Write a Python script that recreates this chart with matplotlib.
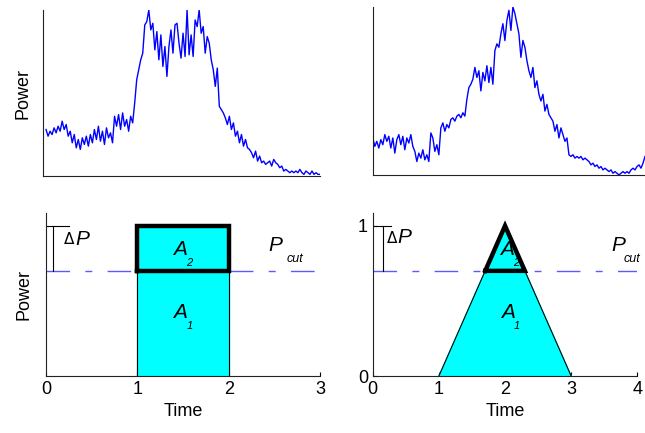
import numpy as np
import matplotlib.pyplot as plt

plt.rcParams['font.family'] = ['Liberation Sans', 'DejaVu Sans']

power_left = [28, 24, 27, 25, 29, 26, 30, 27, 33, 28, 31, 24, 27,
              20, 25, 17, 22, 16, 23, 19, 24, 18,
              25, 20, 28, 22, 30, 21, 27, 19, 29, 23, 26, 20,
              36, 30, 37, 28, 38, 30, 34, 27, 36, 32,
              44, 58, 64, 70, 74,
              91, 93, 100, 88,
              92, 76, 87, 70, 85, 66, 78, 60,
              78, 88, 74, 91, 92,
              80, 71, 86, 72, 100,
              73, 85, 72, 94, 90,
              100, 86, 90, 74, 84,
              80, 70, 64, 54, 65,
              42, 40, 38, 35, 31, 36,
              28, 32, 24, 27, 20, 25, 18, 22, 17, 16,
              14, 11, 15, 9, 12, 8, 9, 7, 8, 9, 6, 10, 8,
              7, 5, 6, 3, 4, 3, 2, 3, 2, 3, 2, 4, 2, 1, 3, 2, 1, 3, 1, 2, 1, 1]

power_right = [22, 17, 20, 16, 21, 18, 24, 20, 23,
               16, 22, 13, 21, 24, 18, 23, 15, 22, 19, 24, 17, 14,
               8, 13, 10, 15, 9, 12, 8,
               25, 22, 14, 18, 12,
               28, 31, 26, 30, 28, 33,
               34, 32, 35, 36, 34, 37, 35,
               45, 52, 54, 57,
               64, 58, 62, 50, 61, 56, 65, 55, 64, 54,
               74, 78, 76,
               84, 90, 80, 92, 98, 86, 100, 96,
               90, 84, 70, 80, 76,
               68, 62, 58, 64, 52, 56, 48,
               44, 48, 38, 42, 36, 34, 32,
               26, 30, 22, 28, 24, 20, 22,
               12, 11, 12, 10, 11, 10, 11, 9, 10,
               9, 8, 6, 7, 5, 6, 4, 5, 3, 4,
               3, 2, 3, 1, 2, 1, 0, 1, 2, 1, 2, 1,
               3, 4, 3, 5, 6, 4, 7, 11]

# idealised profiles
rect_t = [1, 1, 2, 2]
rect_p = [0, 1, 1, 0]
tri_t = [1, 2, 3]
tri_p = [0, 1, 0]
p_peak = 1.0
p_cut = 0.7

fig = plt.figure(figsize=(6.45, 4.33), dpi=100)
ax1 = fig.add_axes([0.0667, 0.5935, 0.4295, 0.3834])
ax2 = fig.add_axes([0.578, 0.596, 0.422, 0.388])
ax3 = fig.add_axes([0.0713, 0.1316, 0.4248, 0.3764])
ax4 = fig.add_axes([0.578, 0.1316, 0.410, 0.3764])

for ax in (ax1, ax2, ax3, ax4):
    ax.spines['top'].set_visible(False)
    ax.spines['right'].set_visible(False)
    for s in ('left', 'bottom'):
        ax.spines[s].set_linewidth(0.8)
        ax.spines[s].set_color('#222222')

# top: measured traces
ax1.plot(np.arange(len(power_left)), power_left, color='#0000ff', lw=1)
ax1.set_xlim(-1.5, len(power_left) - 1)
ax1.set_ylim(0, 100)
ax2.plot(np.arange(len(power_right)), power_right, color='#0000ff', lw=1)
ax2.set_xlim(0, len(power_right) - 1)
ax2.set_ylim(0, 100)
for ax in (ax1, ax2):
    ax.set_xticks([])
    ax.set_yticks([])
ax1.set_ylabel('Power', fontsize=13, labelpad=8)

dash = (0, (17, 11, 5, 11))
cut_color = '#5a5aff'


def draw_cut(ax, t, p, xmax, sel_x, bx, hx):
    t = np.array(t, dtype=float)
    p = np.array(p, dtype=float)
    ax.fill(t, p, color='#00ffff', zorder=2)
    ax.plot(t, p, color='black', lw=0.8, zorder=3)
    ax.plot([0, xmax], [p_cut, p_cut], color=cut_color, lw=1, linestyle=dash, zorder=1)
    # region above the cut level
    ax.plot(sel_x[0], sel_x[1], color='black', lw=3.2, solid_joinstyle='miter', zorder=4)
    # delta P bracket
    ax.plot([0, hx], [p_peak, p_peak], color='black', lw=0.8)
    ax.plot([bx, bx], [p_cut, p_peak], color='black', lw=0.8)
    ax.set_ylim(0, 1.085)
    ax.set_xlim(0, xmax)
    ax.tick_params(direction='in', length=3, labelsize=13, width=0.8)
    ax.set_xlabel('Time', fontsize=13, labelpad=4)


def area_label(ax, x, y, idx):
    ax.text(x, y, 'A', fontsize=15, style='italic', ha='center', va='center', zorder=5)
    ax.text(x + 0.1 * ax.get_xlim()[1] / 3, y - 0.09, idx, fontsize=8, style='italic',
            ha='center', va='center', zorder=5)


# bottom left: rectangular profile
draw_cut(ax3, rect_t, rect_p, 3,
         ([1, 1, 2, 2, 1], [p_cut, p_peak, p_peak, p_cut, p_cut]), 0.08, 0.25)
ax3.set_xticks([0, 1, 2, 3])
ax3.set_yticks([])
ax3.set_ylabel('Power', fontsize=13, labelpad=10)
area_label(ax3, 1.47, 0.84, '2')
area_label(ax3, 1.47, 0.42, '1')
ax3.text(2.51, 0.87, 'P', fontsize=15, style='italic', ha='center', va='center')
ax3.text(2.73, 0.78, 'cut', fontsize=9, style='italic', ha='center', va='center')
ax3.text(0.19, 0.91, r'$\Delta$', fontsize=11, ha='left', va='center')
ax3.text(0.32, 0.91, 'P', fontsize=15, style='italic', ha='left', va='center')

# bottom right: triangular profile
x_lo = 2 - (p_peak - p_cut)
x_hi = 2 + (p_peak - p_cut)
draw_cut(ax4, tri_t, tri_p, 4,
         ([x_lo, 2, x_hi, x_lo], [p_cut, p_peak, p_cut, p_cut]), 0.15, 0.27)
ax4.set_xticks([0, 1, 2, 3, 4])
ax4.set_yticks([0, 1])
area_label(ax4, 2.03, 0.84, '2')
area_label(ax4, 2.04, 0.42, '1')
ax4.text(3.72, 0.87, 'P', fontsize=15, style='italic', ha='center', va='center')
ax4.text(3.8, 0.78, 'cut', fontsize=9, style='italic', ha='left', va='center')
ax4.text(0.2, 0.92, r'$\Delta$', fontsize=11, ha='left', va='center')
ax4.text(0.37, 0.92, 'P', fontsize=15, style='italic', ha='left', va='center')

fig.savefig('out.png', dpi=100)
